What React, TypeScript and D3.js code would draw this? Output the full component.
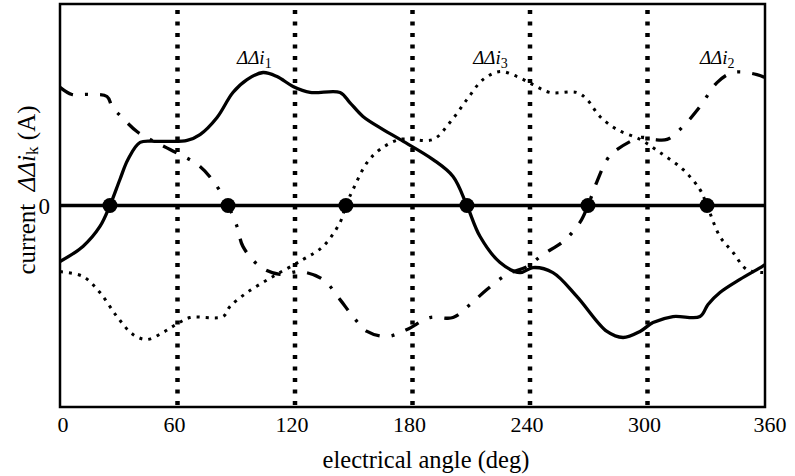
import React from 'react';
import * as d3 from 'd3';

// electrical angle (deg) / current (normalised, zero line in the middle)
const i1Angle = [0, 11.7, 20.4, 25.5, 30.6, 34.7, 40.9, 49.5, 56.2, 64.9, 71.5, 80.2, 88.3, 95.5, 103.7, 110.8, 119, 127.7, 143, 148, 154.7, 165, 173.6, 190.5, 200.7, 207.8, 214.5, 224.7, 234.9, 241.5, 251.7, 264, 279.3, 287.5, 296.2, 302.8, 313, 326.8, 330.9, 337, 347.2, 358.5, 360];
const i1Value = [-0.278, -0.203, -0.104, 0, 0.129, 0.228, 0.313, 0.318, 0.318, 0.323, 0.352, 0.437, 0.561, 0.625, 0.66, 0.64, 0.591, 0.561, 0.561, 0.511, 0.442, 0.377, 0.328, 0.228, 0.144, 0, -0.154, -0.283, -0.333, -0.308, -0.333, -0.452, -0.625, -0.655, -0.625, -0.581, -0.551, -0.551, -0.491, -0.432, -0.367, -0.303, -0.293];

const i2Angle = [0, 6.1, 14.3, 24, 26.6, 31.7, 39.3, 46, 56.2, 71.5, 80.2, 85.8, 90.4, 93.4, 102.1, 112.3, 122.6, 134.3, 143, 149.6, 156.8, 167, 177.2, 188.9, 200.7, 209.4, 218, 228.3, 238.5, 246.6, 256.9, 265.5, 269.6, 274.2, 279.3, 282.4, 296.2, 302.8, 310, 318.1, 326.8, 335.5, 343.7, 355.9, 360];
const i2Value = [0.586, 0.551, 0.551, 0.541, 0.491, 0.437, 0.367, 0.328, 0.278, 0.194, 0.094, 0, -0.104, -0.203, -0.303, -0.342, -0.328, -0.367, -0.467, -0.551, -0.625, -0.65, -0.615, -0.556, -0.556, -0.491, -0.417, -0.342, -0.303, -0.243, -0.179, -0.084, 0, 0.119, 0.228, 0.263, 0.337, 0.328, 0.328, 0.392, 0.491, 0.61, 0.66, 0.65, 0.635];

const i3Angle = [0, 11.7, 20.4, 29.1, 37.3, 44.4, 52.6, 59.2, 66.4, 83.2, 86.8, 95.5, 108.8, 124.1, 134.3, 143, 146, 149.6, 156.8, 163.4, 173.6, 190.5, 199.1, 207.8, 216, 224.7, 233.4, 241.5, 250.2, 264, 269.1, 275.7, 284.4, 296.2, 306.4, 318.1, 326.8, 330.4, 337, 343.7, 350.8, 360];
const i3Value = [-0.328, -0.352, -0.432, -0.551, -0.64, -0.665, -0.63, -0.591, -0.556, -0.551, -0.501, -0.432, -0.352, -0.268, -0.203, -0.084, 0, 0.079, 0.213, 0.278, 0.328, 0.328, 0.412, 0.526, 0.625, 0.665, 0.64, 0.6, 0.561, 0.561, 0.526, 0.442, 0.377, 0.328, 0.263, 0.179, 0.079, 0, -0.154, -0.233, -0.318, -0.333];

const zeroCrossings = [25.5, 85.8, 146, 207.8, 269.6, 330.4];
const xTicks = [0, 60, 120, 180, 240, 300, 360];
const gridAngles = [60, 120, 180, 240, 300];
// label name subscripts and the angle where each label starts
const labelSubs = ['1', '3', '2'];
const labelAngles = [90.4, 211, 326.8];

const width = 795;
const height = 476;
const margin = { top: 4, right: 30, bottom: 69, left: 60 };
const font = '"Liberation Serif", "DejaVu Serif", serif';

export default function App() {
  const x = d3.scaleLinear().domain([0, 360]).range([margin.left, width - margin.right]);
  const y = d3.scaleLinear().domain([-1, 1]).range([height - margin.bottom, margin.top]);

  const line = d3.line<[number, number]>()
    .x(d => x(d[0]))
    .y(d => y(d[1]))
    .curve(d3.curveCatmullRom);

  const pts = (a: number[], v: number[]) => a.map((d, i) => [d, v[i]] as [number, number]);

  const [x0, x1] = x.range();
  const [yb, yt] = y.range();

  return (
    <svg width={width} height={height} style={{ position: 'absolute', left: 0, top: 0, background: '#fff' }} fontFamily={font}>
      {/* vertical dotted grid */}
      {gridAngles.map(a => (
        <line key={a} x1={x(a)} x2={x(a)} y1={yt + 6} y2={yb} stroke="#000" strokeWidth={4.5}
          strokeDasharray="4 7.5" />
      ))}

      {/* zero line */}
      <line x1={x0} x2={x1} y1={y(0)} y2={y(0)} stroke="#000" strokeWidth={3.5} />

      {/* curves */}
      <path d={line(pts(i1Angle, i1Value)) ?? ''} fill="none" stroke="#000" strokeWidth={3.3} />
      <path d={line(pts(i2Angle, i2Value)) ?? ''} fill="none" stroke="#000" strokeWidth={3.3}
        strokeDasharray="15 12 3 12" />
      <path d={line(pts(i3Angle, i3Value)) ?? ''} fill="none" stroke="#000" strokeWidth={3}
        strokeDasharray="3 6" />

      {/* zero crossings */}
      {zeroCrossings.map(a => (
        <circle key={a} cx={x(a)} cy={y(0)} r={7.5} fill="#000" />
      ))}

      {/* frame */}
      <rect x={x0} y={yt} width={x1 - x0} height={yb - yt} fill="none" stroke="#000" strokeWidth={2.5} />

      {/* x tick labels */}
      {xTicks.map(t => (
        <text key={t} x={x(t) + (t === 0 ? 3 : t === 360 ? 5 : -3)} y={yb + 25} textAnchor="middle" fontSize={22}>{t}</text>
      ))}
      <text x={426} y={yb + 61} textAnchor="middle" fontSize={24.5}>electrical angle (deg)</text>

      {/* y axis */}
      <text x={50} y={y(0) + 8} textAnchor="end" fontSize={23}>0</text>
      <text transform={`translate(35, 190) rotate(-90)`} textAnchor="middle" fontSize={25}>
        current{'\u00a0\u00a0'}<tspan fontStyle="italic">ΔΔi</tspan><tspan fontSize={17} dy={3}>k</tspan><tspan dy={-3}> (A)</tspan>
      </text>

      {/* series labels */}
      {labelSubs.map((s, i) => (
        <text key={s} x={x(labelAngles[i])} y={64} fontSize={19}>
          <tspan fontStyle="italic">ΔΔi</tspan><tspan fontSize={14} dy={4}>{s}</tspan>
        </text>
      ))}
    </svg>
  );
}
